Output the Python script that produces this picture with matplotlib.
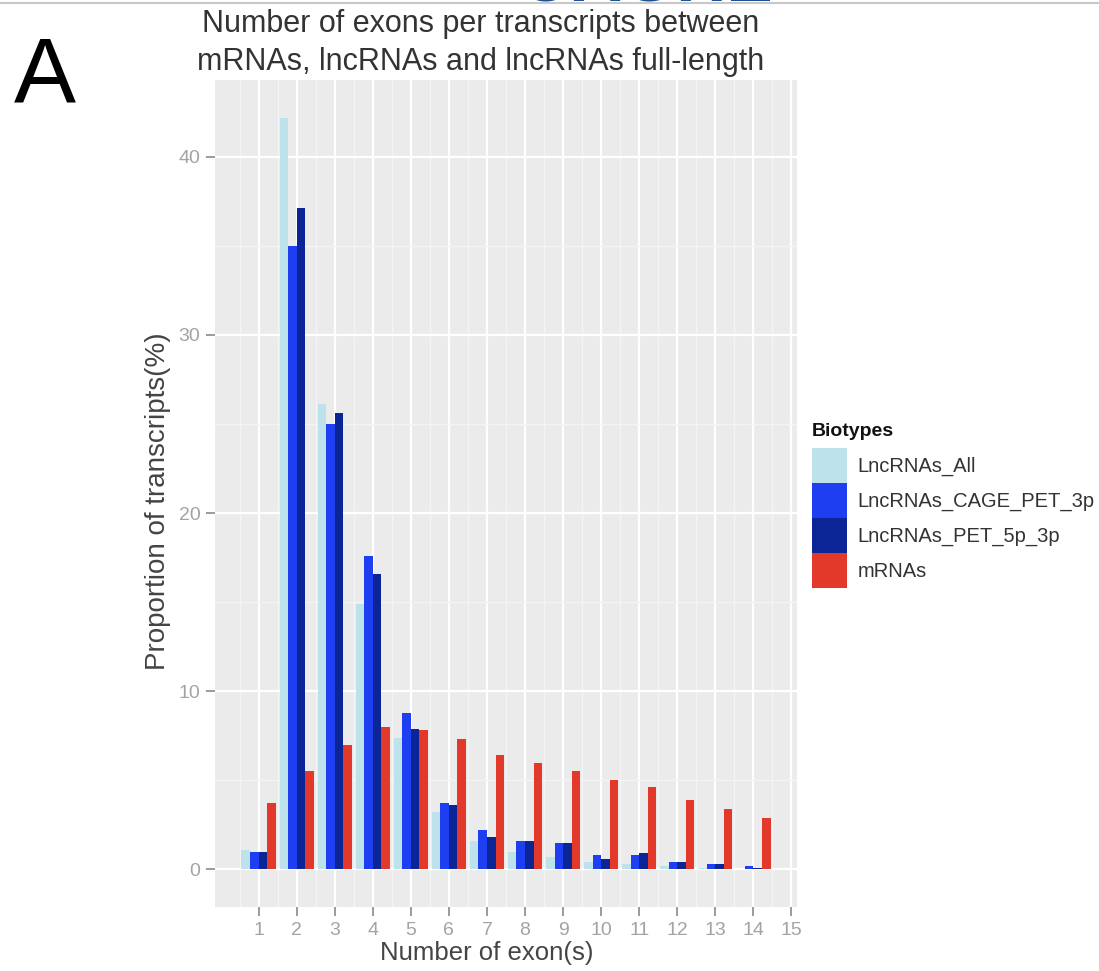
import matplotlib
matplotlib.use("Agg")
import matplotlib.pyplot as plt
import numpy as np
from matplotlib.lines import Line2D

plt.rcParams['font.family'] = ['Liberation Sans', 'DejaVu Sans']

# ---- data ----
exons = [1, 2, 3, 4, 5, 6, 7, 8, 9, 10, 11, 12, 13, 14]
biotypes = ["LncRNAs_All", "LncRNAs_CAGE_PET_3p", "LncRNAs_PET_5p_3p", "mRNAs"]
lnc_all = [1.1, 42.2, 26.1, 14.9, 7.4, 3.2, 1.6, 1.0, 0.7, 0.4, 0.3, 0.2, 0.1, 0.05]
lnc_cage = [1.0, 35.0, 25.0, 17.6, 8.8, 3.7, 2.2, 1.6, 1.5, 0.8, 0.8, 0.4, 0.3, 0.2]
lnc_pet = [1.0, 37.1, 25.6, 16.6, 7.9, 3.6, 1.8, 1.6, 1.5, 0.6, 0.9, 0.4, 0.3, 0.1]
mrnas = [3.75, 5.5, 7.0, 8.0, 7.8, 7.3, 6.4, 6.0, 5.5, 5.0, 4.6, 3.9, 3.4, 2.9]
series = [lnc_all, lnc_cage, lnc_pet, mrnas]
colors = ["#BDE2EC", "#1E3EF2", "#0C2596", "#E2392B"]
x_ticks = list(range(1, 16))
y_ticks = [0, 10, 20, 30, 40]

W, H = 1099, 971
fig = plt.figure(figsize=(W / 100, H / 100), dpi=100)
ax = fig.add_axes([215 / W, 1 - 907 / H, (797 - 215) / W, (907 - 80) / H])
ax.set_facecolor("#EBEBEB")

x = np.array(exons, dtype=float)
bw = 0.225
handles = []
for i, (vals, c, lab) in enumerate(zip(series, colors, biotypes)):
    b = ax.bar(x + (i - 1.5) * bw, vals, width=bw, color=c, label=lab,
               linewidth=0, zorder=3)
    handles.append(b)

ax.set_xlim(-0.145, 15.145)
ax.set_ylim(-2.11, 44.31)
ax.set_xticks(x_ticks)
ax.set_yticks(y_ticks)
ax.set_xticks(np.arange(0.5, 15, 1.0), minor=True)
ax.set_yticks([5, 15, 25, 35], minor=True)
ax.grid(which="major", color="white", linewidth=1.6, zorder=1)
ax.grid(which="minor", color="#F4F4F4", linewidth=0.9, zorder=0.5)
ax.set_axisbelow(True)
for s in ax.spines.values():
    s.set_visible(False)
ax.tick_params(which="major", length=6.5, width=1.2, color="#8A8A8A",
               labelcolor="#A3A3A3", labelsize=14, pad=4)
ax.tick_params(which="minor", length=0)

# titles and labels
fig.text(481 / W, 1 - 24 / H, "Number of exons per transcripts between",
         ha="center", va="center", fontsize=22, color="#333333")
fig.text(481 / W, 1 - 62 / H, "mRNAs, lncRNAs and lncRNAs full-length",
         ha="center", va="center", fontsize=22, color="#333333")
fig.text(487 / W, 1 - 953 / H, "Number of exon(s)", ha="center", va="center",
         fontsize=18.5, color="#444444")
fig.text(158 / W, 1 - 501 / H, "Proportion of transcripts(%)", ha="center",
         va="center", rotation=90, fontsize=20, color="#444444")

# panel label
fig.text(14 / W, 1 - 102 / H, "A", ha="left", va="baseline", fontsize=67,
         color="black")

# cut-off header fragment at top
fig.add_artist(Line2D([0, 1], [1 - 3.5 / H, 1 - 3.5 / H], color="#C8C8C8",
                      lw=1.5, transform=fig.transFigure))
fig.text(518 / W, 1 - 1.5 / H, "OAGHE", ha="left", va="baseline", fontsize=50,
         fontweight="bold", color="#1C5290")

# legend
fig.text(812 / W, 1 - 432 / H, "Biotypes", ha="left", va="center",
         fontsize=14, fontweight="bold", color="#111111")
leg = ax.legend(handles=handles, labels=biotypes,
                loc="upper left", bbox_to_anchor=(812 / W, 1 - 448 / H),
                bbox_transform=fig.transFigure, frameon=False, fontsize=14.5,
                handlelength=1.75, handleheight=2.3,
                labelspacing=0.0, handletextpad=0.5, borderpad=0.0,
                borderaxespad=0)
for t in leg.get_texts():
    t.set_color("#333333")

fig.savefig("out.png", dpi=100)
